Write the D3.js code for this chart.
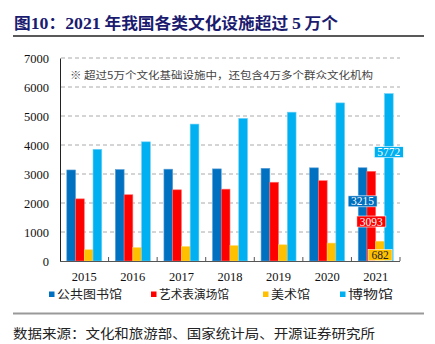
<!DOCTYPE html>
<html><head><meta charset="utf-8">
<script src="https://cdn.jsdelivr.net/npm/d3@7/dist/d3.min.js"></script>
<style>body{margin:0;background:#fff}svg{display:block}</style>
</head><body>
<svg id="c" width="435" height="344"></svg>
<script>
const years = ["2015","2016","2017","2018","2019","2020","2021"];
const seriesNames = ["公共图书馆","艺术表演场馆","美术馆","博物馆"];
const library = [3139,3153,3166,3176,3196,3212,3215];
const performance = [2143,2285,2455,2478,2716,2770,3093];
const artMuseum = [387,462,499,531,559,618,682];
const museum = [3852,4109,4721,4918,5132,5452,5772];
const yTicks = [0,1000,2000,3000,4000,5000,6000,7000];
const colors = ["#0070C0","#FF0000","#FFC000","#00B0F0"];
const strokes = ["#5a9fd6","#ff7070","#ffd866","#70d0f6"];
const labelFrac = [0.64,0.44,0.30,0.65];
const labelText = ["#fff","#fff","#222","#fff"];
const series = [library, performance, artMuseum, museum];

const svg = d3.select("#c");
const serif = "'Liberation Serif','DejaVu Serif',serif";
const cjk = "'Noto Sans CJK SC','Noto Sans',sans-serif";

// title
const title = svg.append("text").attr("x",14).attr("y",29).attr("font-weight","bold")
  .attr("font-size",16).attr("fill","#1b1b6f").attr("textLength",324).attr("lengthAdjust","spacingAndGlyphs");
[["图",cjk],["10",serif],["：",cjk],["2021",serif],[" 年我国各类文化设施超过 ",cjk],["5",serif],[" 万个",cjk]]
  .forEach(([t,f])=>title.append("tspan").attr("font-family",f).attr("font-size",f===serif?17:16).text(t));
svg.append("line").attr("x1",13).attr("x2",424).attr("y1",36).attr("y2",36).attr("stroke","#222").attr("stroke-width",1.5);

const x0 = d3.scaleBand().domain(years).range([60,400]).paddingInner(0.28).paddingOuter(0.14);
const x1 = d3.scaleBand().domain(d3.range(4)).range([0,x0.bandwidth()]).padding(0);
const y = d3.scaleLinear().domain([0,7000]).range([261,58]);

// gridlines
svg.append("g").selectAll("line").data(yTicks.filter(d=>d>0)).join("line")
  .attr("x1",61).attr("x2",400).attr("y1",d=>y(d)).attr("y2",d=>y(d))
  .attr("stroke","#aaa").attr("stroke-dasharray","4,3").attr("stroke-width",1);

// y axis
const yAxis = d3.axisLeft(y).tickValues(yTicks).tickFormat(d3.format("d")).tickSize(0).tickPadding(11);
const gy = svg.append("g").attr("transform","translate(60,0)").call(yAxis);
gy.select(".domain").attr("stroke","#222");
gy.selectAll("text").attr("font-family",serif).attr("font-size",12.5).attr("fill","#111");

// bars
const g = svg.append("g");
years.forEach((yr,i)=>{
  series.forEach((s,j)=>{
    g.append("rect").attr("x",x0(yr)+x1(j)).attr("width",x1.bandwidth())
      .attr("y",y(s[i])).attr("height",y(0)-y(s[i]))
      .attr("fill",colors[j]).attr("stroke",strokes[j]).attr("stroke-width",0.6);
  });
});

// x axis
const step = x0.step();
const xAxisG = svg.append("g");
xAxisG.append("line").attr("x1",60).attr("x2",400).attr("y1",261.5).attr("y2",261.5).attr("stroke","#555").attr("stroke-width",1.2);
const bounds = d3.range(1,years.length+1).map(k=>60+k*step);
xAxisG.selectAll("line.t").data(bounds).join("line").attr("class","t")
  .attr("x1",d=>d).attr("x2",d=>d).attr("y1",261).attr("y2",257).attr("stroke","#555");
xAxisG.selectAll("text").data(years).join("text")
  .attr("x",d=>x0(d)+x0.bandwidth()/2).attr("y",281).attr("text-anchor","middle")
  .attr("font-family",serif).attr("font-size",12.5).attr("fill","#111").text(d=>d);

// data labels for last year
const last = years.length-1;
series.forEach((s,j)=>{
  const cx = x0(years[last])+x1(j)+x1.bandwidth()/2;
  const cy = y(s[last]*labelFrac[j]);
  const txt = String(s[last]);
  const w = txt.length===4?29:24;
  svg.append("rect").attr("x",cx-w/2).attr("y",cy-5.5).attr("width",w).attr("height",11)
    .attr("fill",colors[j]).attr("stroke","#fff").attr("stroke-width",0.6);
  svg.append("text").attr("x",cx).attr("y",cy+4).attr("text-anchor","middle")
    .attr("font-family",serif).attr("font-size",11.5).attr("fill",labelText[j]).text(txt);
});

// annotation
svg.append("text").attr("x",70).attr("y",79).attr("font-family",cjk).attr("font-size",10)
  .attr("fill","#444").attr("textLength",303).attr("lengthAdjust","spacingAndGlyphs")
  .text("※ 超过5万个文化基础设施中，还包含4万多个群众文化机构");

// legend
const legX = [49,151,263,340];
const legW = [65,70,39,45];
seriesNames.forEach((n,j)=>{
  svg.append("rect").attr("x",legX[j]).attr("y",291.5).attr("width",5.5).attr("height",5.5).attr("fill",colors[j]);
  svg.append("text").attr("x",legX[j]+8).attr("y",298.5).attr("font-family",cjk).attr("font-size",12)
    .attr("fill","#222").attr("textLength",legW[j]).attr("lengthAdjust","spacingAndGlyphs").text(n);
});

// bottom rule & source
svg.append("line").attr("x1",13).attr("x2",424).attr("y1",313.5).attr("y2",313.5).attr("stroke","#999").attr("stroke-width",2);
svg.append("text").attr("x",13).attr("y",338).attr("font-family",cjk).attr("font-size",13)
  .attr("fill","#222").attr("textLength",362).attr("lengthAdjust","spacingAndGlyphs")
  .text("数据来源：文化和旅游部、国家统计局、开源证券研究所");
</script>
</body></html>
